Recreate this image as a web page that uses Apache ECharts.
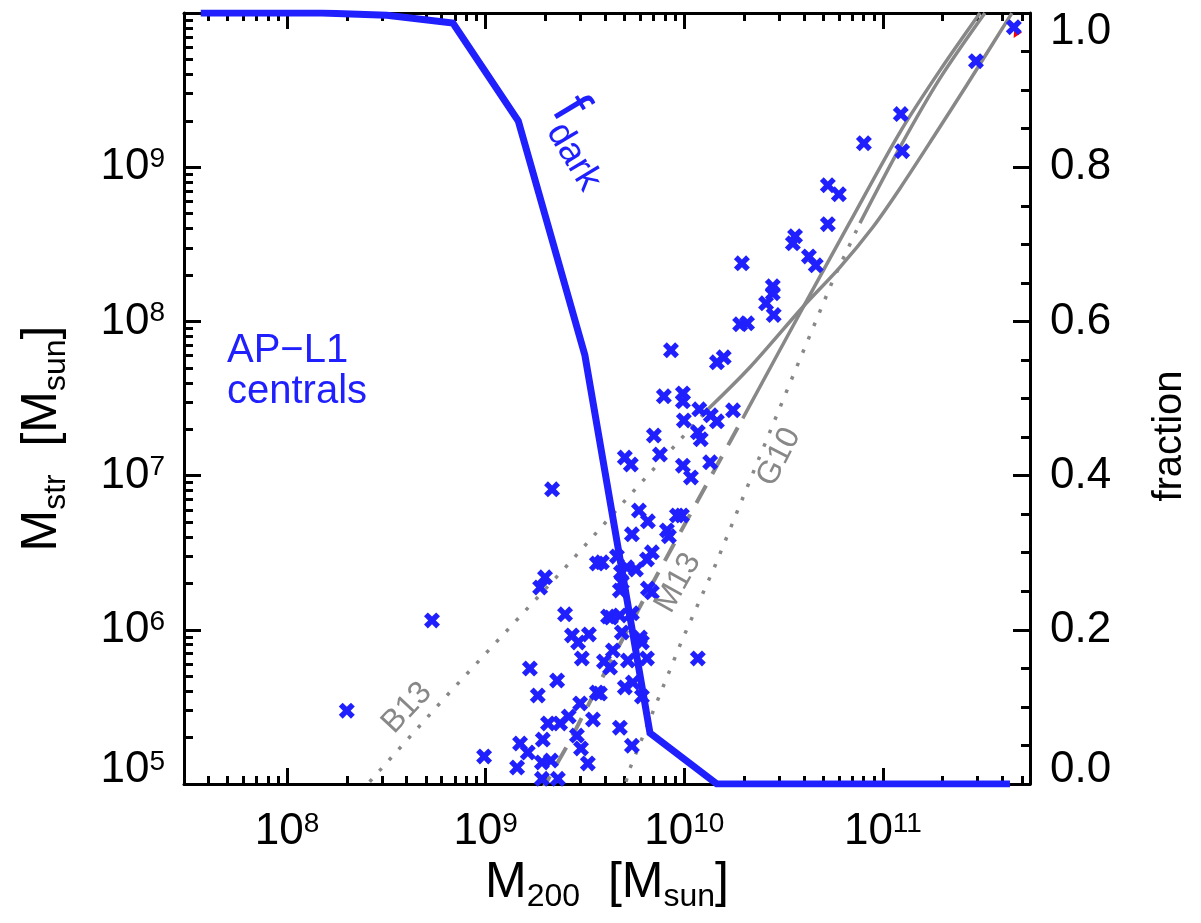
<!DOCTYPE html>
<html><head><meta charset="utf-8">
<script src="https://cdn.jsdelivr.net/npm/echarts@6/dist/echarts.min.js"></script>
<style>html,body{margin:0;padding:0;background:#fff}#c{width:1201px;height:923px}</style>
</head><body><div id="c"></div>
<script>
// ---------------- axis ranges and tick labels ----------------
const xRange = [3.03e7, 5.5e11];
const yRange = [1e5, 1e10];
const xMajorTicks = [1e8, 1e9, 1e10, 1e11];
const xMajorExp = ['8', '9', '10', '11'];
const yMajorTicks = [1e5, 1e6, 1e7, 1e8, 1e9];
const yMajorExp = ['5', '6', '7', '8', '9'];
const fracRange = [0, 1];

// ---------------- AP-L1 centrals (M200, Mstr) ----------------
const centralsM200 = [
  4.56e11, 2.94e11, 1.23e11, 1.25e11, 8.02e10, 5.28e10, 6.00e10, 5.28e10, 3.61e10, 3.52e10,
  4.24e10, 4.59e10, 1.95e10, 2.79e10, 2.79e10, 2.58e10, 2.82e10, 1.91e10, 2.07e10, 8.57e9,
  1.46e10, 1.58e10, 7.89e9, 9.84e9, 9.84e9, 1.19e10, 1.36e10, 1.46e10, 1.76e10, 9.95e9,
  7.03e9, 1.17e10, 1.21e10, 7.54e9, 5.02e9, 5.38e9, 9.84e9, 1.08e10, 1.35e10, 5.91e9,
  6.56e9, 9.18e9, 9.73e9, 8.18e9, 8.37e9, 5.45e9, 2.16e9, 6.87e9, 6.49e9, 4.58e9,
  3.85e9, 3.63e9, 5.14e9, 5.71e9, 4.80e9, 4.85e9, 6.56e9, 6.87e9, 4.74e9, 1.99e9,
  1.88e9, 2.51e9, 4.13e9, 4.27e9, 5.45e9, 4.74e9, 2.72e9, 2.92e9, 3.31e9, 4.85e9,
  5.98e9, 6.12e9, 4.37e9, 3.05e9, 3.94e9, 4.23e9, 5.20e9, 6.49e9, 1.17e10, 1.67e9,
  2.29e9, 1.83e9, 3.63e9, 5.02e9, 5.51e9, 6.12e9, 3.76e9, 2.99e9, 3.47e9, 2.62e9,
  2.37e9, 2.06e9, 4.74e9, 5.45e9, 1.94e9, 1.49e9, 1.63e9, 2.88e9, 3.02e9, 3.27e9,
  1.44e9, 1.92e9, 2.13e9, 1.92e9, 2.31e9, 2.00e8, 5.37e8, 9.82e8
];
const centralsMstr = [
  8.09e9, 4.87e9, 2.21e9, 1.27e9, 1.43e9, 7.64e8, 6.68e8, 4.27e8, 3.57e8, 3.21e8,
  2.64e8, 2.31e8, 2.38e8, 1.69e8, 1.52e8, 1.31e8, 1.10e8, 9.58e7, 9.72e7, 6.50e7,
  5.43e7, 5.85e7, 3.27e7, 3.41e7, 3.03e7, 2.69e7, 2.46e7, 2.25e7, 2.65e7, 2.28e7,
  1.82e7, 1.91e7, 1.72e7, 1.37e7, 1.31e7, 1.18e7, 1.16e7, 9.73e6, 1.22e7, 5.94e6,
  5.05e6, 5.52e6, 5.52e6, 4.41e6, 4.04e6, 4.16e6, 8.15e6, 3.18e6, 2.86e6, 2.99e6,
  2.74e6, 2.69e6, 2.54e6, 2.46e6, 2.35e6, 2.03e6, 1.85e6, 1.75e6, 1.80e6, 2.19e6,
  1.88e6, 1.26e6, 1.22e6, 1.20e6, 1.28e6, 1.24e6, 9.19e5, 8.28e5, 9.33e5, 9.61e5,
  8.91e5, 8.28e5, 7.35e5, 6.52e5, 6.23e5, 5.69e5, 6.32e5, 6.52e5, 6.52e5, 5.61e5,
  4.69e5, 3.75e5, 3.92e5, 4.23e5, 4.55e5, 3.69e5, 3.86e5, 3.33e5, 2.62e5, 2.74e5,
  2.47e5, 2.47e5, 2.32e5, 1.77e5, 1.94e5, 1.83e5, 1.60e5, 2.06e5, 1.70e5, 1.36e5,
  1.28e5, 1.38e5, 1.42e5, 1.08e5, 1.08e5, 2.99e5, 1.15e6, 1.51e5
];
const redM200 = [4.67e11];
const redMstr = [7.3e9];

// ---------------- dark fraction (right axis) ----------------
const fdarkM200 = [3.68e7, 6.98e7, 1.50e8, 3.18e8, 6.84e8, 1.46e9, 3.16e9, 6.72e9, 1.46e10, 3.13e10, 6.73e10, 1.45e11, 3.11e11, 4.36e11];
const fdarkFrac = [1.0, 1.0, 1.0, 0.997, 0.987, 0.86, 0.556, 0.066, 0.0, 0.0, 0.0, 0.0, 0.0, 0.0];

// ---------------- abundance-matching relations ----------------
const b13ExtM200 = [2.33e8, 6.38e8, 2.57e9, 5.14e9, 1.30e10];
const b13ExtMstr = [8.8e4, 3.75e5, 2.61e6, 7.11e6, 2.65e7];
const b13M200 = [1.30e10, 2.14e10, 3.95e10, 6.07e10, 8.89e10, 1.22e11, 1.82e11, 2.64e11, 4.46e11];
const b13Mstr = [2.65e7, 5.04e7, 1.24e8, 2.24e8, 4.08e8, 7.31e8, 1.61e9, 3.40e9, 9.98e9];
const m13ExtM200 = [1.88e9, 2.66e9, 4.08e9, 6.49e9, 1.03e10, 1.97e10];
const m13ExtMstr = [8.67e4, 1.91e5, 5.61e5, 1.72e6, 5.12e6, 2.35e7];
const m13M200 = [1.97e10, 3.82e10, 6.82e10, 1.22e11, 1.94e11, 3.08e11];
const m13Mstr = [2.35e7, 1.13e8, 4.40e8, 1.69e9, 4.26e9, 1.0e10];
const g10ExtM200 = [4.85e9, 5.32e9, 9.73e9, 1.43e10, 2.32e10, 3.40e10, 5.60e10, 7.66e10];
const g10ExtMstr = [8.41e4, 1.26e5, 8.53e5, 2.61e6, 1.20e7, 3.96e7, 1.85e8, 4.34e8];
const g10M200 = [7.66e10, 1.22e11, 1.94e11, 3.26e11];
const g10Mstr = [4.34e8, 1.35e9, 3.78e9, 1.0e10];

// ---------------- helpers ----------------
const BLUE = '#2020ff';
const GRAY = '#888888';
const F = '"Liberation Sans", Arial, Helvetica, sans-serif';
const zip = (a, b) => a.map((v, i) => [v, b[i]]);
function minorLogTicks(lo, hi) {
  const out = [];
  for (let e = Math.floor(Math.log10(lo)); e <= Math.ceil(Math.log10(hi)); e++) {
    for (let m = 2; m <= 9; m++) { const v = m * Math.pow(10, e); if (v > lo * 1.001 && v < hi * 0.999) out.push(v); }
  }
  return out;
}
const near = (a, b) => Math.abs(a - b) <= Math.abs(b) * 1e-6 + 1e-9;
const xMinor = minorLogTicks(xRange[0], xRange[1]);
const yMinor = minorLogTicks(yRange[0], yRange[1]);
const XSYM = 'path://M0,2.4L2.4,0L5,2.6L7.6,0L10,2.4L7.4,5L10,7.6L7.6,10L5,7.4L2.4,10L0,7.6L2.6,5Z';

const tickRich = {
  b: { fontSize: 44, lineHeight: 44, fontFamily: F, color: '#000' },
  e: { fontSize: 28, lineHeight: 24, verticalAlign: 'top', fontFamily: F, color: '#000' },
  r: { fontSize: 44, lineHeight: 44, fontFamily: F, color: '#000' },
  gTop: { fontSize: 10, lineHeight: 38 },
  gBot: { fontSize: 10, lineHeight: 28 }
};
const titleRich = {
  M: { fontSize: 50, lineHeight: 60, fontFamily: F, color: '#000' },
  s: { fontSize: 32, lineHeight: 26, verticalAlign: 'bottom', fontFamily: F, color: '#000' }
};
const axLine = { show: true, onZero: false, lineStyle: { color: '#000', width: 3 } };
const noLine = { show: false, onZero: false };
function logX(pos, major, withLabels) {
  return {
    type: 'log', logBase: 10, gridIndex: 0, position: pos, min: xRange[0], max: xRange[1],
    axisLine: major ? axLine : noLine, splitLine: { show: false }, nameMoveOverlap: false,
    axisTick: { show: true, inside: true, length: major ? 16 : 8, customValues: major ? xMajorTicks : xMinor,
      lineStyle: { color: '#000', width: 3 } },
    axisLabel: withLabels ? {
      show: true, margin: 26, customValues: xMajorTicks, rich: tickRich,
      formatter: v => { const i = xMajorTicks.findIndex(t => near(v, t)); return '{b|10}{e|' + xMajorExp[i] + '}'; }
    } : { show: false }
  };
}
function logY(major, withLabels) {
  return {
    type: 'log', logBase: 10, gridIndex: 0, position: 'left', min: yRange[0], max: yRange[1],
    axisLine: major ? axLine : noLine, splitLine: { show: false }, nameMoveOverlap: false,
    axisTick: { show: true, inside: true, length: major ? 17 : 9, customValues: major ? yMajorTicks : yMinor,
      lineStyle: { color: '#000', width: 3 } },
    axisLabel: withLabels ? {
      show: true, margin: 19, customValues: yMajorTicks, rich: tickRich,
      formatter: v => {
        const i = yMajorTicks.findIndex(t => near(v, t));
        const s = '{b|10}{e|' + yMajorExp[i] + '}';
        return i === 0 ? s + '\n{gBot| }' : s;
      }
    } : { show: false }
  };
}
const xMain = logX('bottom', true, true);
xMain.name = '{M|M}{s|200}{M|  [M}{s|sun}{M|]}';
xMain.nameLocation = 'middle';
xMain.nameGap = 69;
xMain.nameTextStyle = { rich: titleRich };
const yMain = logY(true, true);
yMain.name = '{M|M}{s|str}{M|  [M}{s|sun}{M|]}';
yMain.nameLocation = 'middle';
yMain.nameRotate = 90;
yMain.nameGap = 112;
yMain.nameTextStyle = { rich: titleRich, padding: [0, 80, 0, 0] };

const rot = -59 * Math.PI / 180;
const option = {
  animation: false,
  backgroundColor: '#fff',
  textStyle: { fontFamily: F },
  grid: { left: 184, right: 171, top: 13, bottom: 139, containLabel: false, outerBoundsMode: 'none' },
  xAxis: [xMain, logX('bottom', false, false), logX('top', true, false), logX('top', false, false)],
  yAxis: [yMain, logY(false, false), {
    type: 'value', gridIndex: 0, position: 'right', min: fracRange[0], max: fracRange[1], interval: 0.2,
    axisLine: axLine, splitLine: { show: false }, nameMoveOverlap: false,
    axisTick: { show: true, inside: true, length: 17, lineStyle: { color: '#000', width: 3 } },
    minorTick: { show: true, splitNumber: 4, length: 9, lineStyle: { color: '#000', width: 3 } },
    axisLabel: {
      show: true, margin: 20, rich: tickRich,
      formatter: v => {
        const s = '{r|' + v.toFixed(1) + '}';
        if (near(v, 1)) return '{gTop| }\n' + s;
        if (Math.abs(v) < 1e-9) return s + '\n{gBot| }';
        return s;
      }
    }
  }],
  series: [
    { type: 'line', name: 'B13 ext', data: zip(b13ExtM200, b13ExtMstr), symbol: 'none', z: 2,
      lineStyle: { color: GRAY, width: 3.5, type: [3.5, 11] } },
    { type: 'line', name: 'B13', data: zip(b13M200, b13Mstr), symbol: 'none', z: 2, smooth: 0.3,
      lineStyle: { color: GRAY, width: 3.5 } },
    { type: 'line', name: 'M13 ext', data: zip(m13ExtM200, m13ExtMstr), symbol: 'none', z: 2,
      lineStyle: { color: GRAY, width: 4, type: [20, 13] } },
    { type: 'line', name: 'M13', data: zip(m13M200, m13Mstr), symbol: 'none', z: 2, smooth: 0.3,
      lineStyle: { color: GRAY, width: 3.5 } },
    { type: 'line', name: 'G10 ext', data: zip(g10ExtM200, g10ExtMstr), symbol: 'none', z: 2,
      lineStyle: { color: GRAY, width: 3.5, type: [3.5, 11] } },
    { type: 'line', name: 'G10', data: zip(g10M200, g10Mstr), symbol: 'none', z: 2, smooth: 0.3,
      lineStyle: { color: GRAY, width: 3.5 } },
    { type: 'scatter', name: 'red', data: zip(redM200, redMstr), symbol: 'triangle', symbolSize: 9,
      symbolRotate: 150, itemStyle: { color: '#ff0000', opacity: 1 }, z: 3 },
    { type: 'scatter', name: 'AP-L1 centrals', data: zip(centralsM200, centralsMstr), symbol: XSYM,
      symbolSize: 16, itemStyle: { color: BLUE, opacity: 1 }, z: 4 },
    { type: 'line', name: 'f_dark', yAxisIndex: 2, data: zip(fdarkM200, fdarkFrac), symbol: 'none', z: 5,
      lineStyle: { color: BLUE, width: 7, join: 'miter' } }
  ],
  graphic: [
    { type: 'text', x: 227, y: 330, z: 10, style: { text: 'AP\u2212L1\ncentrals', fill: BLUE, font: '40px ' + F,
      lineHeight: 41, align: 'left', verticalAlign: 'top', textAlign: 'left', textVerticalAlign: 'top' } },
    { type: 'text', x: 565, y: 102, rotation: rot, z: 10, style: { text: 'f', fill: BLUE, font: '58px ' + F,
      align: 'left', verticalAlign: 'middle', textAlign: 'left', textVerticalAlign: 'middle' } },
    { type: 'text', x: 555, y: 126, rotation: rot, z: 10, style: { text: 'dark', fill: BLUE, font: '37px ' + F,
      align: 'left', verticalAlign: 'middle', textAlign: 'left', textVerticalAlign: 'middle' } },
    { type: 'text', x: 407, y: 708, rotation: 47 * Math.PI / 180, z: 10, style: { text: 'B13', fill: GRAY,
      font: '32px ' + F, align: 'center', verticalAlign: 'middle', textAlign: 'center', textVerticalAlign: 'middle' } },
    { type: 'text', x: 678, y: 583, rotation: 61 * Math.PI / 180, z: 10, style: { text: 'M13', fill: GRAY,
      font: '32px ' + F, align: 'center', verticalAlign: 'middle', textAlign: 'center', textVerticalAlign: 'middle' } },
    { type: 'text', x: 779, y: 457, rotation: 63 * Math.PI / 180, z: 10, style: { text: 'G10', fill: GRAY,
      font: '32px ' + F, align: 'center', verticalAlign: 'middle', textAlign: 'center', textVerticalAlign: 'middle' } },
    { type: 'text', x: 1170, y: 436, rotation: Math.PI / 2, z: 10, style: { text: 'fraction', fill: '#000',
      font: '40px ' + F, align: 'center', verticalAlign: 'middle', textAlign: 'center', textVerticalAlign: 'middle' } }
  ]
};
const chart = echarts.init(document.getElementById('c'), null, { renderer: 'canvas' });
chart.setOption(option);
</script>
</body></html>
